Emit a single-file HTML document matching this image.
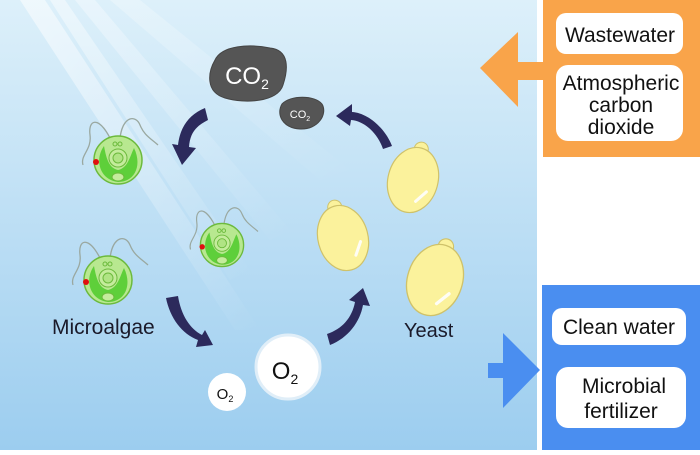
<!DOCTYPE html>
<html><head><style>
body{margin:0;width:700px;height:450px;overflow:hidden;background:#fff;font-family:"Liberation Sans",sans-serif}
</style></head><body>
<svg width="700" height="450" viewBox="0 0 700 450" xmlns="http://www.w3.org/2000/svg">
<defs>
<linearGradient id="bg" x1="0" y1="0" x2="0" y2="1">
<stop offset="0" stop-color="#ddf0fa"/><stop offset="1" stop-color="#9ccdef"/>
</linearGradient>
<linearGradient id="ray" x1="0" y1="0" x2="1" y2="1">
<stop offset="0" stop-color="#fff" stop-opacity="0.9"/><stop offset="1" stop-color="#fff" stop-opacity="0"/>
</linearGradient>
<g id="alga">
<path d="M-8,-22 C-20,-45 -30,-40 -28,-25 C-26,-10 -38,-5 -35,5" fill="none" stroke="#9aa8a0" stroke-width="1.3"/>
<path d="M2,-22 C5,-45 18,-45 22,-35 C26,-25 32,-22 40,-15" fill="none" stroke="#9aa8a0" stroke-width="1.3"/>
<circle r="24" fill="#b8e890" stroke="#6cba3c" stroke-width="1.5"/>
<path d="M-14,-14 C-24,0 -18,20 0,22 C18,22 24,4 16,-12 C12,-4 10,8 0,10 C-10,8 -12,-4 -14,-14Z" fill="#5ecf3a"/>
<circle cx="0" cy="-2" r="9" fill="#c4ec9c" stroke="#6cba3c"/>
<circle cx="0" cy="-2" r="5" fill="#b0e484" stroke="#6cba3c"/>
<ellipse cx="0" cy="17" rx="6" ry="4" fill="#c4ec9c" stroke="#6cba3c"/>
<circle cx="-3" cy="-16" r="2" fill="none" stroke="#6cba3c"/><circle cx="2" cy="-16" r="2" fill="none" stroke="#6cba3c"/>
<circle cx="-22" cy="2" r="3" fill="#e01010"/>
</g>
<g id="yeast">
<circle cx="0" cy="-32" r="7" fill="#fbf29c" stroke="#cfc26a"/>
<ellipse rx="25" ry="33" fill="#fbf29c" stroke="#cfc26a" stroke-width="1.2"/>
<path d="M8,20 L16,8" stroke="#fff" stroke-width="3" stroke-linecap="round" opacity="0.9"/>
</g>
</defs>
<rect x="0" y="0" width="537" height="450" fill="url(#bg)"/>
<polygon points="20,0 45,0 260,330 235,330" fill="url(#ray)" opacity="0.6"/>
<polygon points="50,0 65,0 250,270 230,280" fill="url(#ray)" opacity="0.5"/>
<polygon points="75,0 95,0 290,230 270,240" fill="url(#ray)" opacity="0.4"/>
<polygon points="110,0 140,0 350,170 320,180" fill="url(#ray)" opacity="0.3"/>
<path d="M215,60 C222,45 250,44 270,48 C290,50 288,70 283,85 C278,102 245,104 225,98 C205,92 208,72 215,60Z" fill="#555" stroke="#444"/>
<text x="247" y="84" font-size="24" fill="#fff" text-anchor="middle">CO<tspan font-size="14" dy="5">2</tspan></text>
<path d="M282,104 C290,95 315,95 322,104 C328,114 318,130 300,129 C282,128 276,114 282,104Z" fill="#555" stroke="#444"/>
<text x="300" y="118" font-size="11" fill="#fff" text-anchor="middle">CO<tspan font-size="7" dy="3">2</tspan></text>
<g fill="#2c2a5c">
<path d="M205,108 C188,115 180,128 178,145 L172,144 L182,165 L196,148 L189,147 C190,133 196,126 208,120Z"/>
<path d="M392,146 C385,128 368,113 352,112 L352,104 L336,116 L350,126 L351,120 C365,121 378,134 383,149Z"/>
<path d="M166,298 C170,318 182,334 198,340 L196,347 L213,345 L205,330 L202,335 C190,329 181,315 178,296Z"/>
<path d="M330,345 C348,338 360,322 363,305 L370,306 L363,288 L349,300 L355,302 C352,318 342,329 327,334Z"/>
</g>
<use href="#alga" x="118" y="160"/>
<use href="#alga" x="108" y="280"/>
<use href="#alga" transform="translate(222,245) scale(0.9)"/>
<text x="52" y="334" font-size="21" fill="#1a1a2a">Microalgae</text>
<use href="#yeast" transform="translate(413,180) rotate(15)"/>
<use href="#yeast" transform="translate(343,238) rotate(-15)"/>
<use href="#yeast" transform="translate(435,280) rotate(18) scale(1.1)"/>
<text x="404" y="337" font-size="20" fill="#1a1a2a">Yeast</text>
<circle cx="288" cy="367" r="32" fill="#fff" stroke="#e0eef8" stroke-width="3"/>
<text x="285" y="379" font-size="24" fill="#111" text-anchor="middle">O<tspan font-size="14" dy="5">2</tspan></text>
<circle cx="227" cy="392" r="19" fill="#fff"/>
<text x="225" y="399" font-size="15" fill="#111" text-anchor="middle">O<tspan font-size="9" dy="3">2</tspan></text>
<rect x="543" y="0" width="157" height="157" fill="#f9a44a"/>
<polygon points="480,68 518,32 518,62 545,62 545,80 518,80 518,107" fill="#f9a44a"/>
<rect x="556" y="13" width="127" height="41" rx="10" fill="#fff"/>
<text x="620" y="42" font-size="21" fill="#111" text-anchor="middle">Wastewater</text>
<rect x="556" y="65" width="127" height="76" rx="12" fill="#fff"/>
<text x="621" y="90" font-size="21" fill="#111" text-anchor="middle">Atmospheric</text>
<text x="621" y="112" font-size="21" fill="#111" text-anchor="middle">carbon</text>
<text x="621" y="134" font-size="21" fill="#111" text-anchor="middle">dioxide</text>
<rect x="542" y="285" width="158" height="165" fill="#4a8ef0"/>
<polygon points="488,363 503,363 503,333 540,370 503,408 503,378 488,378" fill="#4a8ef0"/>
<rect x="552" y="308" width="134" height="37" rx="10" fill="#fff"/>
<text x="619" y="334" font-size="21" fill="#111" text-anchor="middle">Clean water</text>
<rect x="556" y="367" width="130" height="61" rx="12" fill="#fff"/>
<text x="624" y="393" font-size="21" fill="#111" text-anchor="middle">Microbial</text>
<text x="621" y="418" font-size="21" fill="#111" text-anchor="middle">fertilizer</text>
</svg>
</body></html>
